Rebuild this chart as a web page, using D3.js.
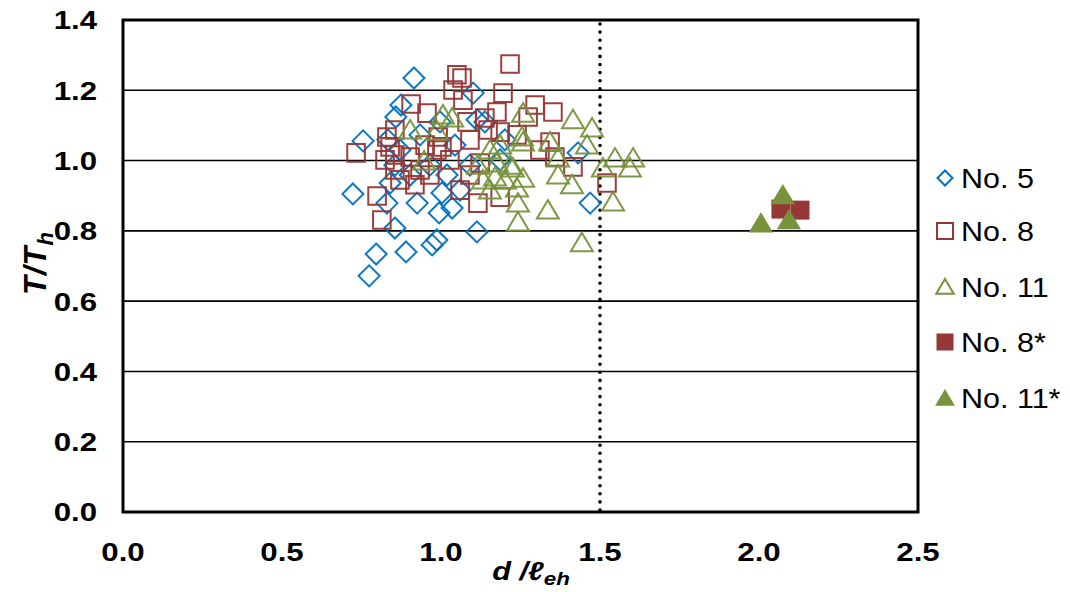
<!DOCTYPE html>
<html><head><meta charset="utf-8">
<script src="https://cdn.jsdelivr.net/npm/d3@7"></script>
<style>body{margin:0;background:#fff}svg{display:block}text{font-family:"Liberation Sans",Arial,sans-serif}</style>
</head><body><svg id="c" width="1070" height="592"></svg>
<script>
const no5 = [[0.915,1.235],[0.874,1.158],[0.858,1.124],[0.755,1.056],[0.723,0.905],[0.830,0.879],[0.925,0.879],[0.855,0.808],[0.994,0.851],[1.035,0.865],[1.113,0.797],[0.796,0.734],[0.890,0.740],[0.972,0.760],[0.987,0.774],[0.774,0.672],[1.003,0.908],[1.060,0.916],[0.840,0.936],[1.101,1.192],[1.113,1.116],[1.469,0.879],[1.431,1.022],[0.997,1.110],[1.138,1.110],[0.871,1.030],[0.934,1.073],[1.044,1.044],[0.965,0.987],[1.091,0.987],[0.855,0.987],[0.903,0.959],[1.186,1.002],[1.019,0.959],[0.833,1.059],[1.201,1.059]];
const no8 = [[0.733,1.022],[0.814,0.831],[0.799,0.899],[0.830,1.067],[0.840,1.039],[0.906,1.161],[0.956,1.135],[1.050,1.244],[1.066,1.235],[1.038,1.201],[1.069,1.172],[1.082,1.110],[0.991,1.067],[1.003,1.039],[1.217,1.275],[1.195,1.192],[1.296,1.158],[1.352,1.138],[1.176,1.138],[1.274,1.124],[1.186,1.081],[1.239,1.073],[1.343,1.053],[1.415,0.982],[1.522,0.936],[1.123,0.993],[1.060,0.916],[1.116,0.879],[1.186,0.896],[0.903,1.010],[0.934,0.973],[0.987,1.030],[1.028,1.002],[0.855,0.973],[0.871,0.945],[0.824,1.002],[0.918,0.931],[0.965,0.959],[1.091,1.059],[1.148,1.087],[1.138,1.121],[0.855,1.087],[1.311,1.030],[1.358,1.010],[1.091,0.959],[0.855,1.016],[0.950,1.044]];
const no11 = [[0.903,1.087],[1.006,1.130],[1.035,1.121],[0.987,1.084],[0.947,0.999],[1.258,1.135],[1.415,1.116],[1.475,1.093],[1.459,1.044],[1.343,1.053],[1.368,1.007],[1.258,1.053],[1.154,1.030],[1.186,1.044],[1.116,0.987],[1.176,0.993],[1.217,0.987],[1.170,0.953],[1.258,0.950],[1.368,0.959],[1.412,0.931],[1.239,0.922],[1.154,0.916],[1.242,0.879],[1.336,0.859],[1.242,0.825],[1.443,0.766],[1.509,0.979],[1.547,1.007],[1.604,1.007],[1.594,0.979],[1.541,0.882],[1.132,0.945],[1.201,0.945],[1.226,0.979],[1.255,1.067]];
const no8s = [[2.069,0.862],[2.129,0.859]];
const no11s = [[2.075,0.902],[2.094,0.831],[2.006,0.822]];
const xTicks = [0, 0.5, 1.0, 1.5, 2.0, 2.5];
const yTicks = [0, 0.2, 0.4, 0.6, 0.8, 1.0, 1.2, 1.4];
const refLine = 1.5;
const legendLabels = ["No. 5","No. 8","No. 11","No. 8*","No. 11*"];

const BLUE="#0070C0", RED="#953735", GREEN="#77933C";
const svg = d3.select("#c");
const L=123, R=918, T=20, B=512;
const x = d3.scaleLinear().domain([0,2.5]).range([L,R]);
const y = d3.scaleLinear().domain([0,1.4]).range([B,T]);
const SX = 1.2; // horizontal stretch of the original text

// gridlines
svg.append("g").selectAll("line").data(yTicks.slice(1,-1)).join("line")
  .attr("x1",L).attr("x2",R).attr("y1",d=>y(d)).attr("y2",d=>y(d))
  .attr("stroke","#000").attr("stroke-width",1.6);

// dotted vertical line
svg.append("line").attr("x1",x(refLine)).attr("x2",x(refLine)).attr("y1",T+4).attr("y2",B)
  .attr("stroke","#000").attr("stroke-width",3.6).attr("stroke-linecap","round")
  .attr("stroke-dasharray","0 8.1");

// symbols
const sym = {
  diamond: s => `M0,${-s}L${s},0L0,${s}L${-s},0Z`,
  square: s => `M${-s},${-s}H${s}V${s}H${-s}Z`,
  tri: s => `M0,${-s}L${s*1.1},${s*0.85}L${-s*1.1},${s*0.85}Z`
};
function series(data, path, stroke, fill, sw){
  svg.append("g").selectAll("path").data(data).join("path")
    .attr("d", path)
    .attr("transform", d=>`translate(${x(d[0])},${y(d[1])})`)
    .attr("fill", fill).attr("stroke", stroke).attr("stroke-width", sw).attr("stroke-opacity",0.95);
}
series(no5, sym.diamond(10.5), BLUE, "none", 2);
series(no8, sym.square(8.8), RED, "none", 2);
series(no11, sym.tri(10), GREEN, "none", 2);
series(no8s, sym.square(9.5), "none", RED, 0);
series(no11s, sym.tri(11), "none", GREEN, 0);

// frame
svg.append("rect").attr("x",L).attr("y",T).attr("width",R-L).attr("height",B-T)
  .attr("fill","none").attr("stroke","#000").attr("stroke-width",3);

// tick labels
svg.append("g").selectAll("text").data(yTicks).join("text")
  .attr("transform",d=>`translate(97,${y(d)}) scale(${SX},1)`).attr("dy","0.36em").attr("text-anchor","end")
  .attr("font-size",26).attr("font-weight","bold").text(d=>d3.format(".1f")(d));
svg.append("g").selectAll("text").data(xTicks).join("text")
  .attr("transform",d=>`translate(${x(d)},561) scale(${SX},1)`).attr("text-anchor","middle")
  .attr("font-size",26).attr("font-weight","bold").text(d=>d3.format(".1f")(d));

// axis titles
const yt = svg.append("text").attr("transform","translate(46,263) rotate(-90)")
  .attr("text-anchor","middle").attr("font-size",31).attr("font-weight","bold").attr("font-style","italic")
  .attr("letter-spacing",1);
yt.append("tspan").text("T/T");
yt.append("tspan").attr("font-size",22).attr("dy",7).text("h");
const xt = svg.append("text").attr("transform",`translate(531,580) scale(1.18,1)`)
  .attr("text-anchor","middle").attr("font-size",26).attr("font-weight","bold").attr("font-style","italic");
xt.append("tspan").text("d /ℓ");
xt.append("tspan").attr("font-size",19).attr("dy",5).text("eh");

// legend
const legY = [178, 231, 287, 342, 398];
const lg = svg.append("g");
const legSyms = [
  {p:sym.diamond(7.5), s:BLUE, f:"none"},
  {p:sym.square(8), s:RED, f:"none"},
  {p:sym.tri(8), s:GREEN, f:"none"},
  {p:sym.square(8.5), s:"none", f:RED},
  {p:sym.tri(9), s:"none", f:GREEN}
];
legendLabels.forEach((t,i)=>{
  lg.append("path").attr("d",legSyms[i].p).attr("transform",`translate(945,${legY[i]})`)
    .attr("fill",legSyms[i].f).attr("stroke",legSyms[i].s).attr("stroke-width",2);
  lg.append("text").attr("transform",`translate(961,${legY[i]}) scale(1.13,1)`).attr("dy","0.36em")
    .attr("font-size",27).text(t);
});
</script></body></html>
